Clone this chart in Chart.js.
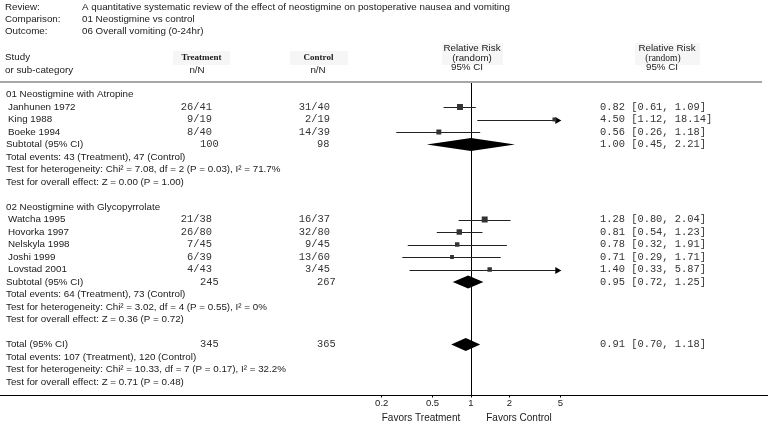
<!DOCTYPE html>
<html><head><meta charset="utf-8">
<script src="https://cdn.jsdelivr.net/npm/chart.js@4"></script>
<style>html,body{margin:0;padding:0;background:#fff}#wrap{width:768px;height:425px;position:relative}</style>
</head><body><div id="wrap"><canvas id="c" width="768" height="425"></canvas></div>
<script>
// ---------- data ----------
const groupNames = ["01 Neostigmine with Atropine", "02 Neostigmine with Glycopyrrolate"];
const studies = ["Janhunen 1972","King 1988","Boeke 1994","Watcha 1995","Hovorka 1997","Nelskyla 1998","Joshi 1999","Lovstad 2001"];
const studyGroup = [0,0,0,1,1,1,1,1];
const treatEvents = [26,9,8,21,26,7,6,4];
const treatN = [41,19,40,38,80,45,39,43];
const ctrlEvents = [31,2,14,16,32,9,13,3];
const ctrlN = [40,19,39,37,80,45,60,45];
const rr = [0.82,4.50,0.56,1.28,0.81,0.78,0.71,1.40];
const rrLo = [0.61,1.12,0.26,0.80,0.54,0.32,0.29,0.33];
const rrHi = [1.09,18.14,1.18,2.04,1.23,1.91,1.71,5.87];
const weights = [36,16,25,36,30,20,15,20];
// pooled: subgroup 1, subgroup 2, total
const pooledRR = [1.00,0.95,0.91];
const pooledLo = [0.45,0.72,0.70];
const pooledHi = [2.21,1.25,1.18];
const pooledTreatN = [100,245,345];
const pooledCtrlN = [98,267,365];
const pooledTreatEv = [43,64,107];
const pooledCtrlEv = [47,73,120];
const hetChi = ["7.08","3.02","10.33"];
const hetDf = [2,4,7];
const hetP = ["0.03","0.55","0.17"];
const hetI2 = ["71.7%","0%","32.2%"];
const effZ = ["0.00","0.36","0.71"];
const effP = ["1.00","0.72","0.48"];
const xTicks = [0.2,0.5,1,2,5];
const xMin = 0.2, xMax = 5;

// ---------- row layout ----------
const studyRow = [];
const groupRow = [];
const pooledRow = [];
let r = 0;
groupNames.forEach((g, gi) => {
  groupRow.push(r); r++;
  studies.forEach((s, i) => { if (studyGroup[i] === gi) { studyRow[i] = r; r++; } });
  pooledRow.push(r); r += 5;
});
pooledRow.push(r);

const SANS = '"Liberation Sans", Arial, sans-serif';
const MONO = '"Liberation Mono", "Courier New", monospace';
const SERIF = '"Liberation Serif", "Times New Roman", serif';
const ciText = (a,b,c) => `${a.toFixed(2)} [${b.toFixed(2)}, ${c.toFixed(2)}]`;

const forest = {
  id: 'forest',
  beforeDatasetsDraw(chart) {
    const {ctx, scales: {x, y}, chartArea: ca} = chart;
    ctx.save();
    // header rule
    ctx.strokeStyle = '#8a8a8a'; ctx.lineWidth = 1.5;
    ctx.beginPath(); ctx.moveTo(0, ca.top); ctx.lineTo(762, ca.top); ctx.stroke();
    // axis rule
    ctx.strokeStyle = '#000'; ctx.lineWidth = 1;
    ctx.beginPath(); ctx.moveTo(0, Math.round(ca.bottom) + 0.5); ctx.lineTo(768, Math.round(ca.bottom) + 0.5); ctx.stroke();
    // line of no effect
    const x1 = Math.round(x.getPixelForValue(1)) + 0.5;
    ctx.beginPath(); ctx.moveTo(x1, ca.top + 1); ctx.lineTo(x1, Math.round(ca.bottom)); ctx.stroke();
    // CI whiskers
    ctx.strokeStyle = '#222'; ctx.fillStyle = '#000';
    studies.forEach((s, i) => {
      const yy = Math.round(y.getPixelForValue(studyRow[i])) + 0.5;
      const xl = x.getPixelForValue(Math.max(rrLo[i], xMin));
      const xr = x.getPixelForValue(Math.min(rrHi[i], xMax));
      ctx.beginPath(); ctx.moveTo(xl, yy); ctx.lineTo(xr, yy); ctx.stroke();
      if (rrHi[i] > xMax) {
        ctx.beginPath(); ctx.moveTo(xr + 1, yy); ctx.lineTo(xr - 5, yy - 3.5); ctx.lineTo(xr - 5, yy + 3.5); ctx.closePath(); ctx.fill();
      }
      if (rrLo[i] < xMin) {
        ctx.beginPath(); ctx.moveTo(xl - 1, yy); ctx.lineTo(xl + 5, yy - 3.5); ctx.lineTo(xl + 5, yy + 3.5); ctx.closePath(); ctx.fill();
      }
    });
    // pooled diamonds
    pooledRR.forEach((v, k) => {
      const yy = y.getPixelForValue(pooledRow[k]);
      const xl = x.getPixelForValue(pooledLo[k]);
      const xc = x.getPixelForValue(v);
      const xr = x.getPixelForValue(pooledHi[k]);
      ctx.beginPath(); ctx.moveTo(xl, yy); ctx.lineTo(xc, yy - 6.5); ctx.lineTo(xr, yy); ctx.lineTo(xc, yy + 6.5); ctx.closePath(); ctx.fill();
    });
    ctx.restore();
  },
  afterDraw(chart) {
    const {ctx, scales: {y}} = chart;
    ctx.save();
    ctx.textBaseline = 'middle';
    const T = (s, px, py, align, font, color) => {
      ctx.font = font; ctx.textAlign = align || 'left'; ctx.fillStyle = color || '#1a1a1a';
      ctx.fillText(s, px, py);
    };
    const F = '9.8px ' + SANS;
    const M = '10.4px ' + MONO;
    // title block
    T('Review:', 5, 7, 'left', F); T('A quantitative systematic review of the effect of neostigmine on postoperative nausea and vomiting', 82, 7, 'left', F);
    T('Comparison:', 5, 19, 'left', F); T('01 Neostigmine vs control', 82, 19, 'left', F);
    T('Outcome:', 5, 31, 'left', F); T('06 Overall vomiting (0-24hr)', 82, 31, 'left', F);
    // column heads backgrounds
    ctx.fillStyle = '#f6f6f6';
    ctx.fillRect(173, 51, 57, 14); ctx.fillRect(290, 51, 58, 14);
    ctx.fillRect(442, 43, 61, 22); ctx.fillRect(635, 43, 65, 22);
    T('Study', 5, 57.5, 'left', F); T('or sub-category', 5, 70, 'left', F);
    T('Treatment', 201.5, 57.5, 'center', 'bold 9px ' + SERIF);
    T('n/N', 197, 70, 'center', F);
    T('Control', 318.5, 57.5, 'center', 'bold 9px ' + SERIF);
    T('n/N', 318, 70, 'center', F);
    T('Relative Risk', 472, 48.5, 'center', F);
    T('(random)', 472, 58, 'center', F);
    T('95% CI', 467, 67, 'center', F);
    T('Relative Risk', 667, 48.5, 'center', F);
    T('(random)', 663, 58, 'center', '9.5px ' + SERIF);
    T('95% CI', 662, 67, 'center', F);
    // group headers
    groupNames.forEach((g, gi) => T(g, 6, y.getPixelForValue(groupRow[gi]), 'left', F));
    // studies
    studies.forEach((s, i) => {
      const yy = y.getPixelForValue(studyRow[i]);
      T(s, 8, yy, 'left', F);
      T(`${treatEvents[i]}/${treatN[i]}`, 212, yy, 'right', M, '#333');
      T(`${ctrlEvents[i]}/${ctrlN[i]}`, 330, yy, 'right', M, '#333');
      T(ciText(rr[i], rrLo[i], rrHi[i]), 600, yy, 'left', M, '#333');
    });
    // pooled
    pooledRR.forEach((v, k) => {
      const yy = y.getPixelForValue(pooledRow[k]);
      T(k < 2 ? 'Subtotal (95% CI)' : 'Total (95% CI)', 6, yy, 'left', F);
      T(String(pooledTreatN[k]), 200, yy, 'left', M, '#333');
      T(String(pooledCtrlN[k]), 317, yy, 'left', M, '#333');
      T(ciText(v, pooledLo[k], pooledHi[k]), 600, yy, 'left', M, '#333');
      T(`Total events: ${pooledTreatEv[k]} (Treatment), ${pooledCtrlEv[k]} (Control)`, 6, y.getPixelForValue(pooledRow[k] + 1), 'left', F);
      T(`Test for heterogeneity: Chi\u00B2 = ${hetChi[k]}, df = ${hetDf[k]} (P = ${hetP[k]}), I\u00B2 = ${hetI2[k]}`, 6, y.getPixelForValue(pooledRow[k] + 2), 'left', F);
      T(`Test for overall effect: Z = ${effZ[k]} (P = ${effP[k]})`, 6, y.getPixelForValue(pooledRow[k] + 3), 'left', F);
    });
    // favours
    T('Favors Treatment', 421, 418, 'center', '10px ' + SANS);
    T('Favors Control', 519, 418, 'center', '10px ' + SANS);
    ctx.restore();
  }
};

new Chart(document.getElementById('c'), {
  type: 'scatter',
  data: {
    datasets: [{
      data: studies.map((s, i) => ({x: rr[i], y: studyRow[i]})),
      pointStyle: 'rect',
      pointRadius: weights.map(w => Math.sqrt(w) * 0.7),
      backgroundColor: '#333',
      borderColor: '#333',
      borderWidth: 0
    }]
  },
  options: {
    responsive: false,
    devicePixelRatio: 1,
    animation: false,
    events: [],
    layout: {padding: {left: 381.7, right: 207.7, top: 82, bottom: 0.5}},
    plugins: {legend: {display: false}, tooltip: {enabled: false}},
    scales: {
      x: {
        type: 'logarithmic', min: xMin, max: xMax,
        afterBuildTicks: s => { s.ticks = xTicks.map(v => ({value: v})); },
        afterFit: s => { s.height = 30; },
        border: {display: false},
        grid: {drawOnChartArea: false, tickLength: 3, color: '#000'},
        ticks: {font: {family: SANS, size: 9.5}, color: '#1a1a1a', padding: 0, maxRotation: 0, autoSkip: false, callback: v => String(v)}
      },
      y: {type: 'linear', min: -1, max: 24, reverse: true, display: false}
    }
  },
  plugins: [forest]
});
</script></body></html>
